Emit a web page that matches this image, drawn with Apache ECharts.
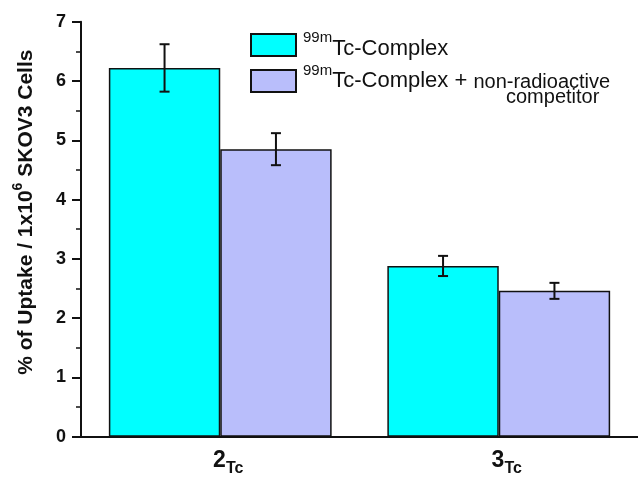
<!DOCTYPE html>
<html>
<head>
<meta charset="utf-8">
<title>Uptake in SKOV3 cells</title>
<script src="https://cdn.jsdelivr.net/npm/echarts@6/dist/echarts.min.js"></script>
<style>
  html, body { margin: 0; padding: 0; background: #fff; }
  #chart { width: 638px; height: 477px; }
</style>
</head>
<body>
<div id="chart"></div>
<script>
const categories = ['2', '3']
const complexMean = [6.22, 2.88]
const complexErr = [0.40, 0.17]
const blockedMean = [4.85, 2.46]
const blockedErr = [0.27, 0.135]
const yTicks = [0, 1, 2, 3, 4, 5, 6, 7]

const FONT = 'Liberation Sans, Arial, sans-serif'
const CYAN = '#00FFFF'
const LAVENDER = '#B9BEFB'
const INK = '#111111'

const chart = echarts.init(document.getElementById('chart'))

// error bar drawn beside each bar (offset = -0.2 / +0.2 of the band)
const errorBars = (means, errs, shift) => ({
  type: 'custom',
  silent: true,
  z: 5,
  data: means.map((m, i) => [i, m - errs[i], m + errs[i]]),
  encode: { x: 0, y: [1, 2] },
  renderItem: (params, api) => {
    const band = api.size([1, 0])[0]
    const lo = api.coord([api.value(0), api.value(1)])
    const hi = api.coord([api.value(0), api.value(2)])
    const x = lo[0] + band * shift
    const cap = 5
    const style = { stroke: INK, lineWidth: 2 }
    return {
      type: 'group',
      children: [
        { type: 'line', shape: { x1: x, y1: lo[1], x2: x, y2: hi[1] }, style },
        { type: 'line', shape: { x1: x - cap, y1: hi[1], x2: x + cap, y2: hi[1] }, style },
        { type: 'line', shape: { x1: x - cap, y1: lo[1], x2: x + cap, y2: lo[1] }, style }
      ]
    }
  }
})

// the empty {h|} token only sets the line height so sup/sub can sit top/bottom
const legendRich = {
  h: { lineHeight: 29, width: 0 },
  sup: { fontSize: 15, fontFamily: FONT, color: INK, lineHeight: 14, verticalAlign: 'top' },
  main: { fontSize: 22, fontFamily: FONT, color: INK, lineHeight: 22, verticalAlign: 'bottom' },
  small: { fontSize: 20, fontFamily: FONT, color: INK, lineHeight: 22, verticalAlign: 'bottom' },
  small2: { fontSize: 20, fontFamily: FONT, color: INK, lineHeight: 10 },
  gap: { width: 203, lineHeight: 10 }
}

const legendBase = {
  left: 250,
  padding: 0,
  itemWidth: 45,
  itemHeight: 22,
  icon: 'rect',
  selectedMode: false,
  itemStyle: { borderColor: INK, borderWidth: 2 }
}

const option = {
  animation: false,
  backgroundColor: '#fff',
  grid: { left: 81, top: 21.7, width: 558, height: 415 },
  legend: [
    {
      ...legendBase,
      data: ['A'],
      top: 30.5,
      formatter: () => '{h|}{sup|99m}{main|Tc-Complex}',
      textStyle: { padding: [0, 0, 0, 2], rich: legendRich }
    },
    {
      ...legendBase,
      data: ['B'],
      top: 63,
      formatter: () => '{h|}{sup|99m}{main|Tc-Complex + }{small|non-radioactive}\n{gap|}{small2|competitor}',
      textStyle: { padding: [4, 0, 1, 2], rich: legendRich }
    }
  ],
  xAxis: [
    {
      type: 'category',
      data: categories,
      axisLine: { lineStyle: { color: INK, width: 2 } },
      axisTick: { alignWithLabel: true, length: 9, lineStyle: { color: INK, width: 2 } },
      axisLabel: {
        margin: 12,
        padding: [0, 0, 0, 16],
        formatter: (v) => '{h|}{n|' + v + '}{s|Tc}',
        rich: {
          h: { lineHeight: 28, width: 0 },
          n: { fontSize: 23, fontWeight: 'bold', fontFamily: FONT, color: INK, lineHeight: 22, verticalAlign: 'top' },
          s: { fontSize: 16, fontWeight: 'bold', fontFamily: FONT, color: INK, lineHeight: 16, verticalAlign: 'bottom' }
        }
      }
    },
    {
      type: 'category',
      data: categories,
      position: 'bottom',
      axisLine: { show: false },
      axisTick: { length: 5, lineStyle: { color: INK, width: 2 } },
      axisLabel: { show: false }
    }
  ],
  yAxis: {
    type: 'value',
    min: yTicks[0],
    max: yTicks[yTicks.length - 1],
    interval: 1,
    name: '{h|}{a|% of Uptake / 1x10}{b|6}{a| SKOV3 Cells}',
    nameLocation: 'middle',
    nameGap: 44,
    nameTextStyle: {
      padding: [0, 0, 0, 34],
      rich: {
        h: { lineHeight: 26, width: 0 },
        a: { fontSize: 21, fontWeight: 'bold', fontFamily: FONT, color: INK, lineHeight: 22, verticalAlign: 'bottom' },
        b: { fontSize: 14, fontWeight: 'bold', fontFamily: FONT, color: INK, lineHeight: 12, verticalAlign: 'top' }
      }
    },
    axisLine: { show: true, lineStyle: { color: INK, width: 2 } },
    axisTick: { show: true, length: 9, lineStyle: { color: INK, width: 2 } },
    minorTick: { show: true, splitNumber: 2, length: 5, lineStyle: { color: INK, width: 1.5 } },
    splitLine: { show: false },
    axisLabel: { margin: 15, fontSize: 18, fontWeight: 'bold', fontFamily: FONT, color: INK }
  },
  series: [
    {
      name: 'A',
      type: 'bar',
      data: complexMean,
      barWidth: '40%',
      barGap: '0%',
      itemStyle: { color: CYAN, borderColor: INK, borderWidth: 1.5 }
    },
    {
      name: 'B',
      type: 'bar',
      data: blockedMean,
      barWidth: '40%',
      barGap: '0%',
      itemStyle: { color: LAVENDER, borderColor: INK, borderWidth: 1.5 }
    },
    errorBars(complexMean, complexErr, -0.2),
    errorBars(blockedMean, blockedErr, 0.2)
  ]
}

chart.setOption(option)
</script>
</body>
</html>
